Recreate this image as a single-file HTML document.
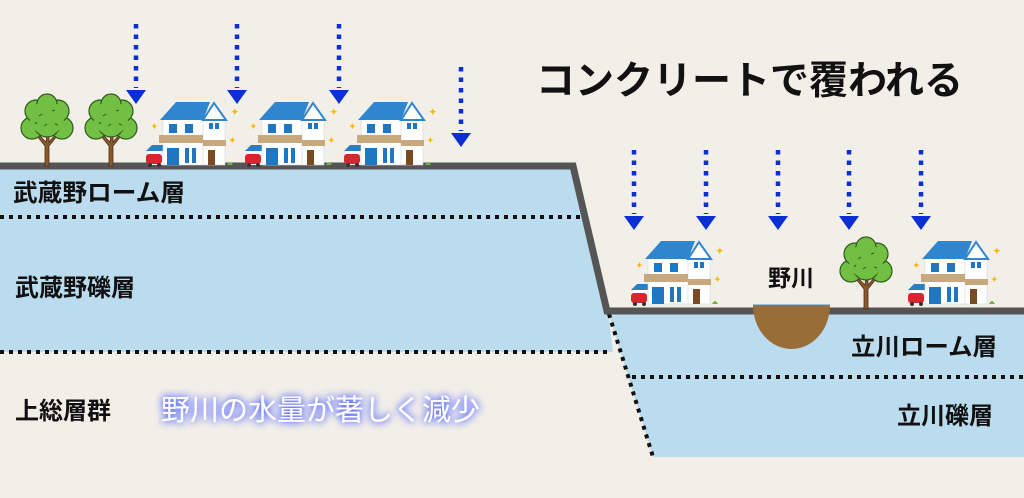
<!DOCTYPE html>
<html><head><meta charset="utf-8"><style>
html,body{margin:0;padding:0;background:#f2efe9;}
svg{display:block}
text{font-family:"Liberation Sans","Noto Sans CJK JP",sans-serif;font-weight:bold;}
</style></head><body>
<svg width="1024" height="498" viewBox="0 0 1024 498" xmlns="http://www.w3.org/2000/svg">
<defs>
<g id="house">
  <rect x="-15" y="-17" width="16" height="17" fill="#fff"/>
  <polygon points="-17,-14 -11,-20 0,-20 0,-14" fill="#2a7ec4"/>
  <rect x="-17" y="-11" width="16" height="10" rx="3" fill="#d8262e"/>
  <circle cx="-13" cy="0" r="2" fill="#333"/><circle cx="-4" cy="0" r="2" fill="#333"/>
  <rect x="0" y="-46" width="41" height="46" fill="#fff" stroke="#cfd6dc" stroke-width="0.6"/>
  <rect x="40" y="-48" width="22" height="48" fill="#fff" stroke="#cfd6dc" stroke-width="0.6"/>
  <polygon points="-3,-45 13,-63 47,-63 40,-45" fill="#2f86cf"/>
  <polygon points="40,-45 51,-62 63,-45" fill="#fff" stroke="#2f86cf" stroke-width="2"/>
  <rect x="6" y="-41" width="8" height="9" fill="#1e77c0"/><rect x="22" y="-41" width="8" height="9" fill="#1e77c0"/>
  <rect x="46" y="-42" width="4" height="6" fill="#1e77c0"/><rect x="52" y="-42" width="4" height="6" fill="#1e77c0"/>
  <rect x="-4" y="-30" width="44" height="8" fill="#c8a97e"/>
  <rect x="40" y="-25" width="23" height="6" fill="#c8a97e"/>
  <rect x="4" y="-17" width="12" height="17" fill="#1e77c0"/><rect x="22" y="-17" width="4" height="15" fill="#1e77c0"/><rect x="29" y="-17" width="4" height="15" fill="#1e77c0"/>
  <rect x="45" y="-15" width="7" height="15" fill="#7a4a22"/>
  <path d="M64,0 q3,-6 6,0z" fill="#6cb33f"/>
  <text x="68" y="-50" font-size="9" fill="#f5b800">✦</text>
  <text x="-12" y="-36" font-size="8" fill="#f5b800">✦</text>
  <text x="66" y="-22" font-size="8" fill="#f5b800">✦</text>
</g>
<g id="tree">
  <path d="M-2,0 L-2,-20 L-10,-30 L-8,-31 L-1,-24 L0,-33 L2,-33 L2,-24 L8,-31 L10,-30 L2,-20 L2,0z" fill="#8a5a2b" stroke="#4a3018" stroke-width="0.8"/>
  <g fill="#72c043" stroke="#2d5a1a" stroke-width="1.2">
    <circle cx="-15" cy="-38" r="11"/><circle cx="15" cy="-38" r="11"/>
    <circle cx="-11" cy="-55" r="11"/><circle cx="11" cy="-55" r="11"/>
    <circle cx="0" cy="-62" r="10"/><circle cx="0" cy="-42" r="13"/>
  </g>
  <g fill="#72c043"><circle cx="0" cy="-48" r="17"/></g>
  <g stroke="#2d5a1a" stroke-width="1" fill="none"><path d="M-8,-50 l3,-2"/><path d="M5,-55 l3,-1"/><path d="M-3,-40 l3,-2"/><path d="M8,-42 l3,1"/><path d="M-12,-42 l2,-2"/></g>
</g>
<g id="arrow">
  <line x1="0" y1="0" x2="0" y2="64" stroke="#0b2fd4" stroke-width="4.5" stroke-dasharray="4.5 6"/>
  <polygon points="-10,66 10,66 0,80" fill="#0b2fd4"/>
</g>
<filter id="glow" x="-20%" y="-60%" width="140%" height="220%">
  <feGaussianBlur in="SourceAlpha" stdDeviation="4" result="b"/>
  <feFlood flood-color="#4b5cff" flood-opacity="0.9"/>
  <feComposite in2="b" operator="in" result="g"/>
  <feMerge><feMergeNode in="g"/><feMergeNode in="g"/><feMergeNode in="SourceGraphic"/></feMerge>
</filter>
</defs>
<rect width="1024" height="498" fill="#f2efe9"/>
<polygon points="0,168 574,168 608,312 613,352 0,352" fill="#badcee"/>
<polygon points="608,312 1024,312 1024,457 653,457" fill="#badcee"/>
<g stroke="#111" stroke-width="4" stroke-dasharray="4 5" fill="none">
  <line x1="0" y1="217" x2="580" y2="217"/>
  <line x1="0" y1="352" x2="612" y2="352"/>
  <line x1="609" y1="314" x2="653" y2="457"/>
  <line x1="632" y1="377" x2="1024" y2="377"/>
</g>
<polyline points="0,166 573,166 607,311 1024,311" fill="none" stroke="#555" stroke-width="7" stroke-linejoin="miter"/>
<path d="M753,305 L830,305 A38.5,44 0 0 1 753,305z" fill="#986d38"/>
<line x1="753" y1="305" x2="830" y2="305" stroke="#4a90c8" stroke-width="1"/>
<use href="#tree" transform="translate(47,166)"/>
<use href="#tree" transform="translate(111,166)"/>
<use href="#tree" transform="translate(866,309)"/>
<use href="#house" transform="translate(163,165)"/>
<use href="#house" transform="translate(262,165)"/>
<use href="#house" transform="translate(361,165)"/>
<use href="#house" transform="translate(648,304)"/>
<use href="#house" transform="translate(925,304)"/>
<use href="#arrow" transform="translate(136,24)"/>
<use href="#arrow" transform="translate(237,24)"/>
<use href="#arrow" transform="translate(339,24)"/>
<use href="#arrow" transform="translate(461,67)"/>
<use href="#arrow" transform="translate(634,150)"/>
<use href="#arrow" transform="translate(706,150)"/>
<use href="#arrow" transform="translate(778,150)"/>
<use href="#arrow" transform="translate(849,150)"/>
<use href="#arrow" transform="translate(921,150)"/>
<text x="536" y="94" font-size="39" fill="#111">コンクリートで覆われる</text>
<text x="13" y="201" font-size="24" fill="#111" textLength="172" lengthAdjust="spacingAndGlyphs">武蔵野ローム層</text>
<text x="15" y="296" font-size="24" fill="#111">武蔵野礫層</text>
<text x="15" y="419" font-size="24" fill="#111">上総層群</text>
<text x="768" y="286" font-size="23" fill="#111">野川</text>
<text x="851" y="355" font-size="24" fill="#111" textLength="146" lengthAdjust="spacingAndGlyphs">立川ローム層</text>
<text x="897" y="424" font-size="24" fill="#111">立川礫層</text>
<text x="161" y="420" font-size="29" fill="#fff" filter="url(#glow)" style="font-weight:normal">野川の水量が著しく減少</text>
</svg>
</body></html>
